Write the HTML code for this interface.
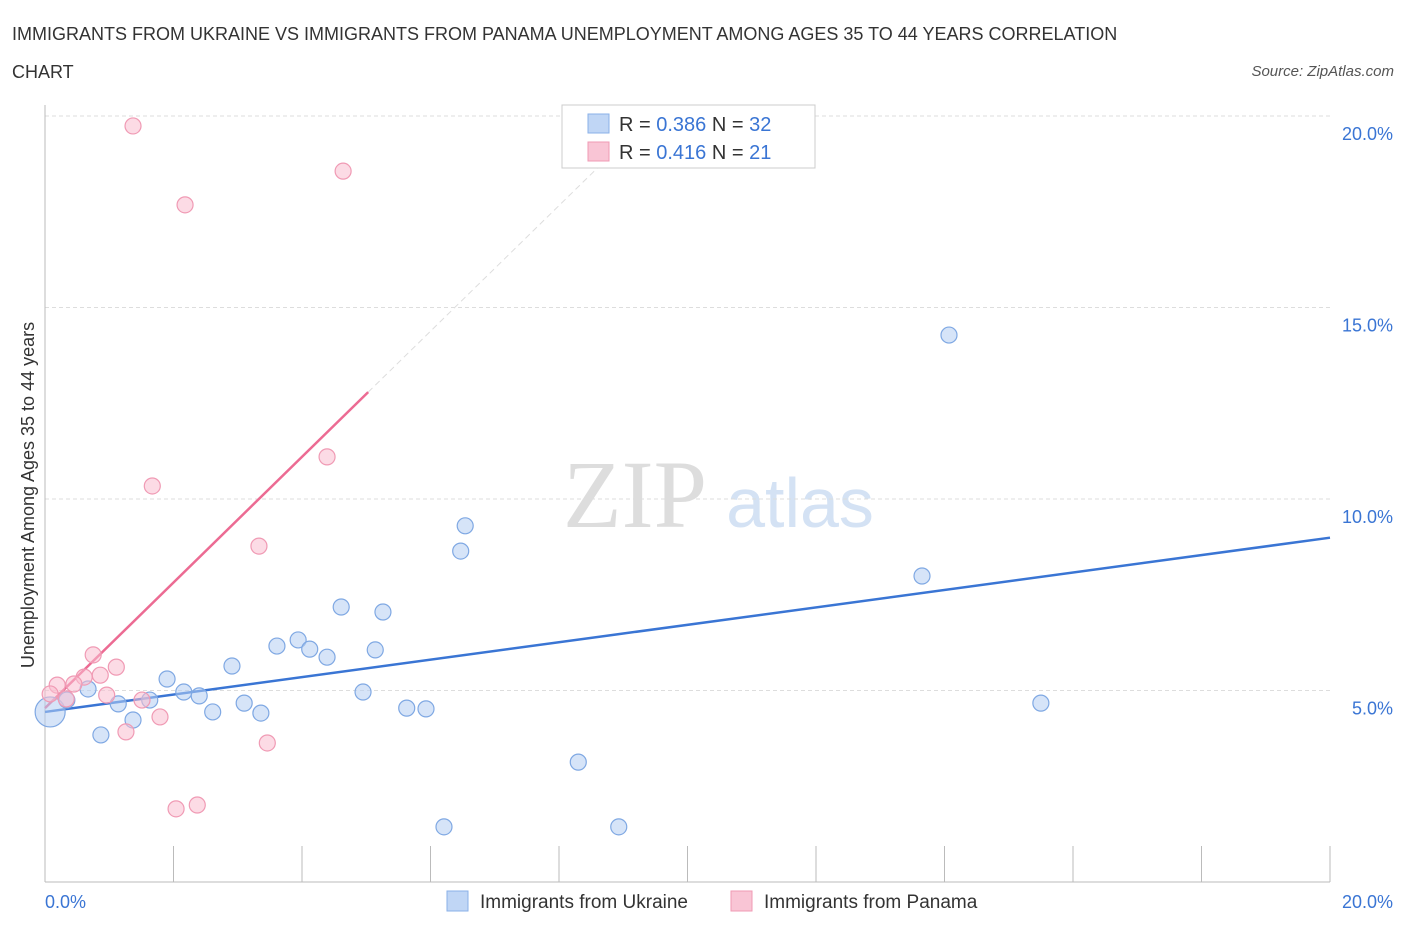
<!DOCTYPE html>
<html><head><meta charset="utf-8"><style>
body{margin:0;background:#fff;font-family:"Liberation Sans",sans-serif}
</style></head><body>
<svg id="chart" width="1406" height="930" xmlns="http://www.w3.org/2000/svg" font-family="Liberation Sans, sans-serif">
<text x="12" y="40" font-size="18" fill="#333">IMMIGRANTS FROM UKRAINE VS IMMIGRANTS FROM PANAMA UNEMPLOYMENT AMONG AGES 35 TO 44 YEARS CORRELATION</text>
<text x="12" y="78" font-size="18" fill="#333">CHART</text>
<text x="1394" y="76" font-size="15" fill="#555" font-style="italic" text-anchor="end">Source: ZipAtlas.com</text>
<text x="635" y="527" font-size="96" fill="#ddd" font-family="Liberation Serif, serif" text-anchor="middle">ZIP</text>
<text x="800" y="527" font-size="70" fill="#d4e2f4" text-anchor="middle">atlas</text>
<text transform="translate(34,495) rotate(-90)" font-size="18" fill="#333" text-anchor="middle">Unemployment Among Ages 35 to 44 years</text>
<g id="grid"></g><g id="axes"></g><g id="lines"></g><g id="points"></g>
<g>
<rect x="562" y="105" width="253" height="63" fill="#fff" stroke="#ccc"/>
<rect x="588" y="114" width="21" height="19" fill="#c0d6f5" stroke="#8ab0e8"/>
<rect x="588" y="142" width="21" height="19" fill="#f9c5d5" stroke="#f09ab4"/>
<text x="619" y="131" font-size="20" fill="#333">R = <tspan fill="#3a75d4">0.386</tspan>   N = <tspan fill="#3a75d4">32</tspan></text>
<text x="619" y="159" font-size="20" fill="#333">R =  <tspan fill="#3a75d4">0.416</tspan>   N =  <tspan fill="#3a75d4">21</tspan></text>
</g>
<g>
<rect x="447" y="891" width="21" height="20" fill="#c0d6f5" stroke="#8ab0e8"/>
<text x="480" y="908" font-size="19" fill="#333">Immigrants from Ukraine</text>
<rect x="731" y="891" width="21" height="20" fill="#f9c5d5" stroke="#f09ab4"/>
<text x="764" y="908" font-size="19" fill="#333">Immigrants from Panama</text>
</g>
</svg>
<script>
const yTicks=[5,10,15,20];
const yTickLabels=["5.0%","10.0%","15.0%","20.0%"];
const xTicks=[0,2,4,6,8,10,12,14,16,18,20];
const ukraineX=[0.08,0.34,0.67,0.87,1.14,1.37,1.63,1.90,2.16,2.40,2.61,2.91,3.10,3.36,3.61,3.94,4.12,4.39,4.61,4.95,5.14,5.26,5.63,5.93,6.21,6.47,6.54,8.30,8.93,13.65,14.07,15.50];
const ukraineY=[4.44,4.75,5.04,3.84,4.65,4.23,4.75,5.30,4.96,4.86,4.44,5.64,4.67,4.41,6.16,6.32,6.08,5.87,7.18,4.96,6.06,7.05,4.54,4.52,1.44,8.64,9.30,3.13,1.44,7.99,14.28,4.67];
const panamaX=[1.37,4.64,2.18,4.39,1.67,3.33,0.75,1.11,0.86,0.61,0.45,0.19,0.08,0.33,0.96,1.51,1.79,1.26,3.46,2.04,2.37];
const panamaY=[19.74,18.56,17.68,11.10,10.34,8.77,5.93,5.61,5.40,5.35,5.17,5.14,4.91,4.78,4.88,4.75,4.31,3.92,3.63,1.91,2.01];
const ukraineFit=[4.44,8.99];
const panamaFit=[4.54,12.79];
const panamaFitEnd=5.03;
const NS="http://www.w3.org/2000/svg";
const X=v=>45+v*64.25, Y=v=>882-v*38.3;
function mk(tag,attrs,parent){const e=document.createElementNS(NS,tag);for(const k in attrs)e.setAttribute(k,attrs[k]);document.getElementById(parent).appendChild(e);return e;}
yTicks.forEach((t,i)=>{
 const g=mk('line',{x1:45,x2:1330,y1:Y(t),y2:Y(t),stroke:'#ddd','stroke-dasharray':'4,3'},'grid');
 
 
 const l=mk('text',{x:1393,y:Y(t)+24,'font-size':18,fill:'#3a75d4','text-anchor':'end'},'axes');
 l.textContent=yTickLabels[i];
 
 
});
const ax=mk('line',{x1:45,x2:1330,y1:882,y2:882,stroke:'#bbb'},'axes');


const ay=mk('line',{x1:45,x2:45,y1:105,y2:882,stroke:'#bbb'},'axes');


xTicks.forEach(t=>{
 const e=mk('line',{x1:X(t),x2:X(t),y1:846,y2:882,stroke:'#bbb'},'axes');
 
 
});
const xl0=mk('text',{x:45,y:908,'font-size':18,fill:'#3a75d4'},'axes');xl0.textContent='0.0%';


const xl1=mk('text',{x:1393,y:908,'font-size':18,fill:'#3a75d4','text-anchor':'end'},'axes');xl1.textContent='20.0%';


const bl=mk('line',{x1:X(0),y1:Y(ukraineFit[0]),x2:X(20),y2:Y(ukraineFit[1]),stroke:'#3a75d4','stroke-width':2.5},'lines');


const slope=(panamaFit[1]-panamaFit[0])/panamaFitEnd;
const xEnd=(20-panamaFit[0])/slope;
const pd=mk('line',{x1:X(panamaFitEnd),y1:Y(panamaFit[1]),x2:X(xEnd),y2:Y(20),stroke:'#ddd','stroke-dasharray':'6,4'},'lines');


const pl=mk('line',{x1:X(0),y1:Y(panamaFit[0]),x2:X(panamaFitEnd),y2:Y(panamaFit[1]),stroke:'#ec6b93','stroke-width':2.5},'lines');


ukraineX.forEach((x,i)=>{
 const c=mk('circle',{cx:X(x),cy:Y(ukraineY[i]),r:i===0?15:8,fill:'rgba(180,205,243,0.55)',stroke:'#7fa8e3','stroke-width':1.2},'points');
 
 
});
panamaX.forEach((x,i)=>{
 const c=mk('circle',{cx:X(x),cy:Y(panamaY[i]),r:8,fill:'rgba(249,190,208,0.55)',stroke:'#f09ab4','stroke-width':1.2},'points');
 
 
});
</script>
</body></html>
